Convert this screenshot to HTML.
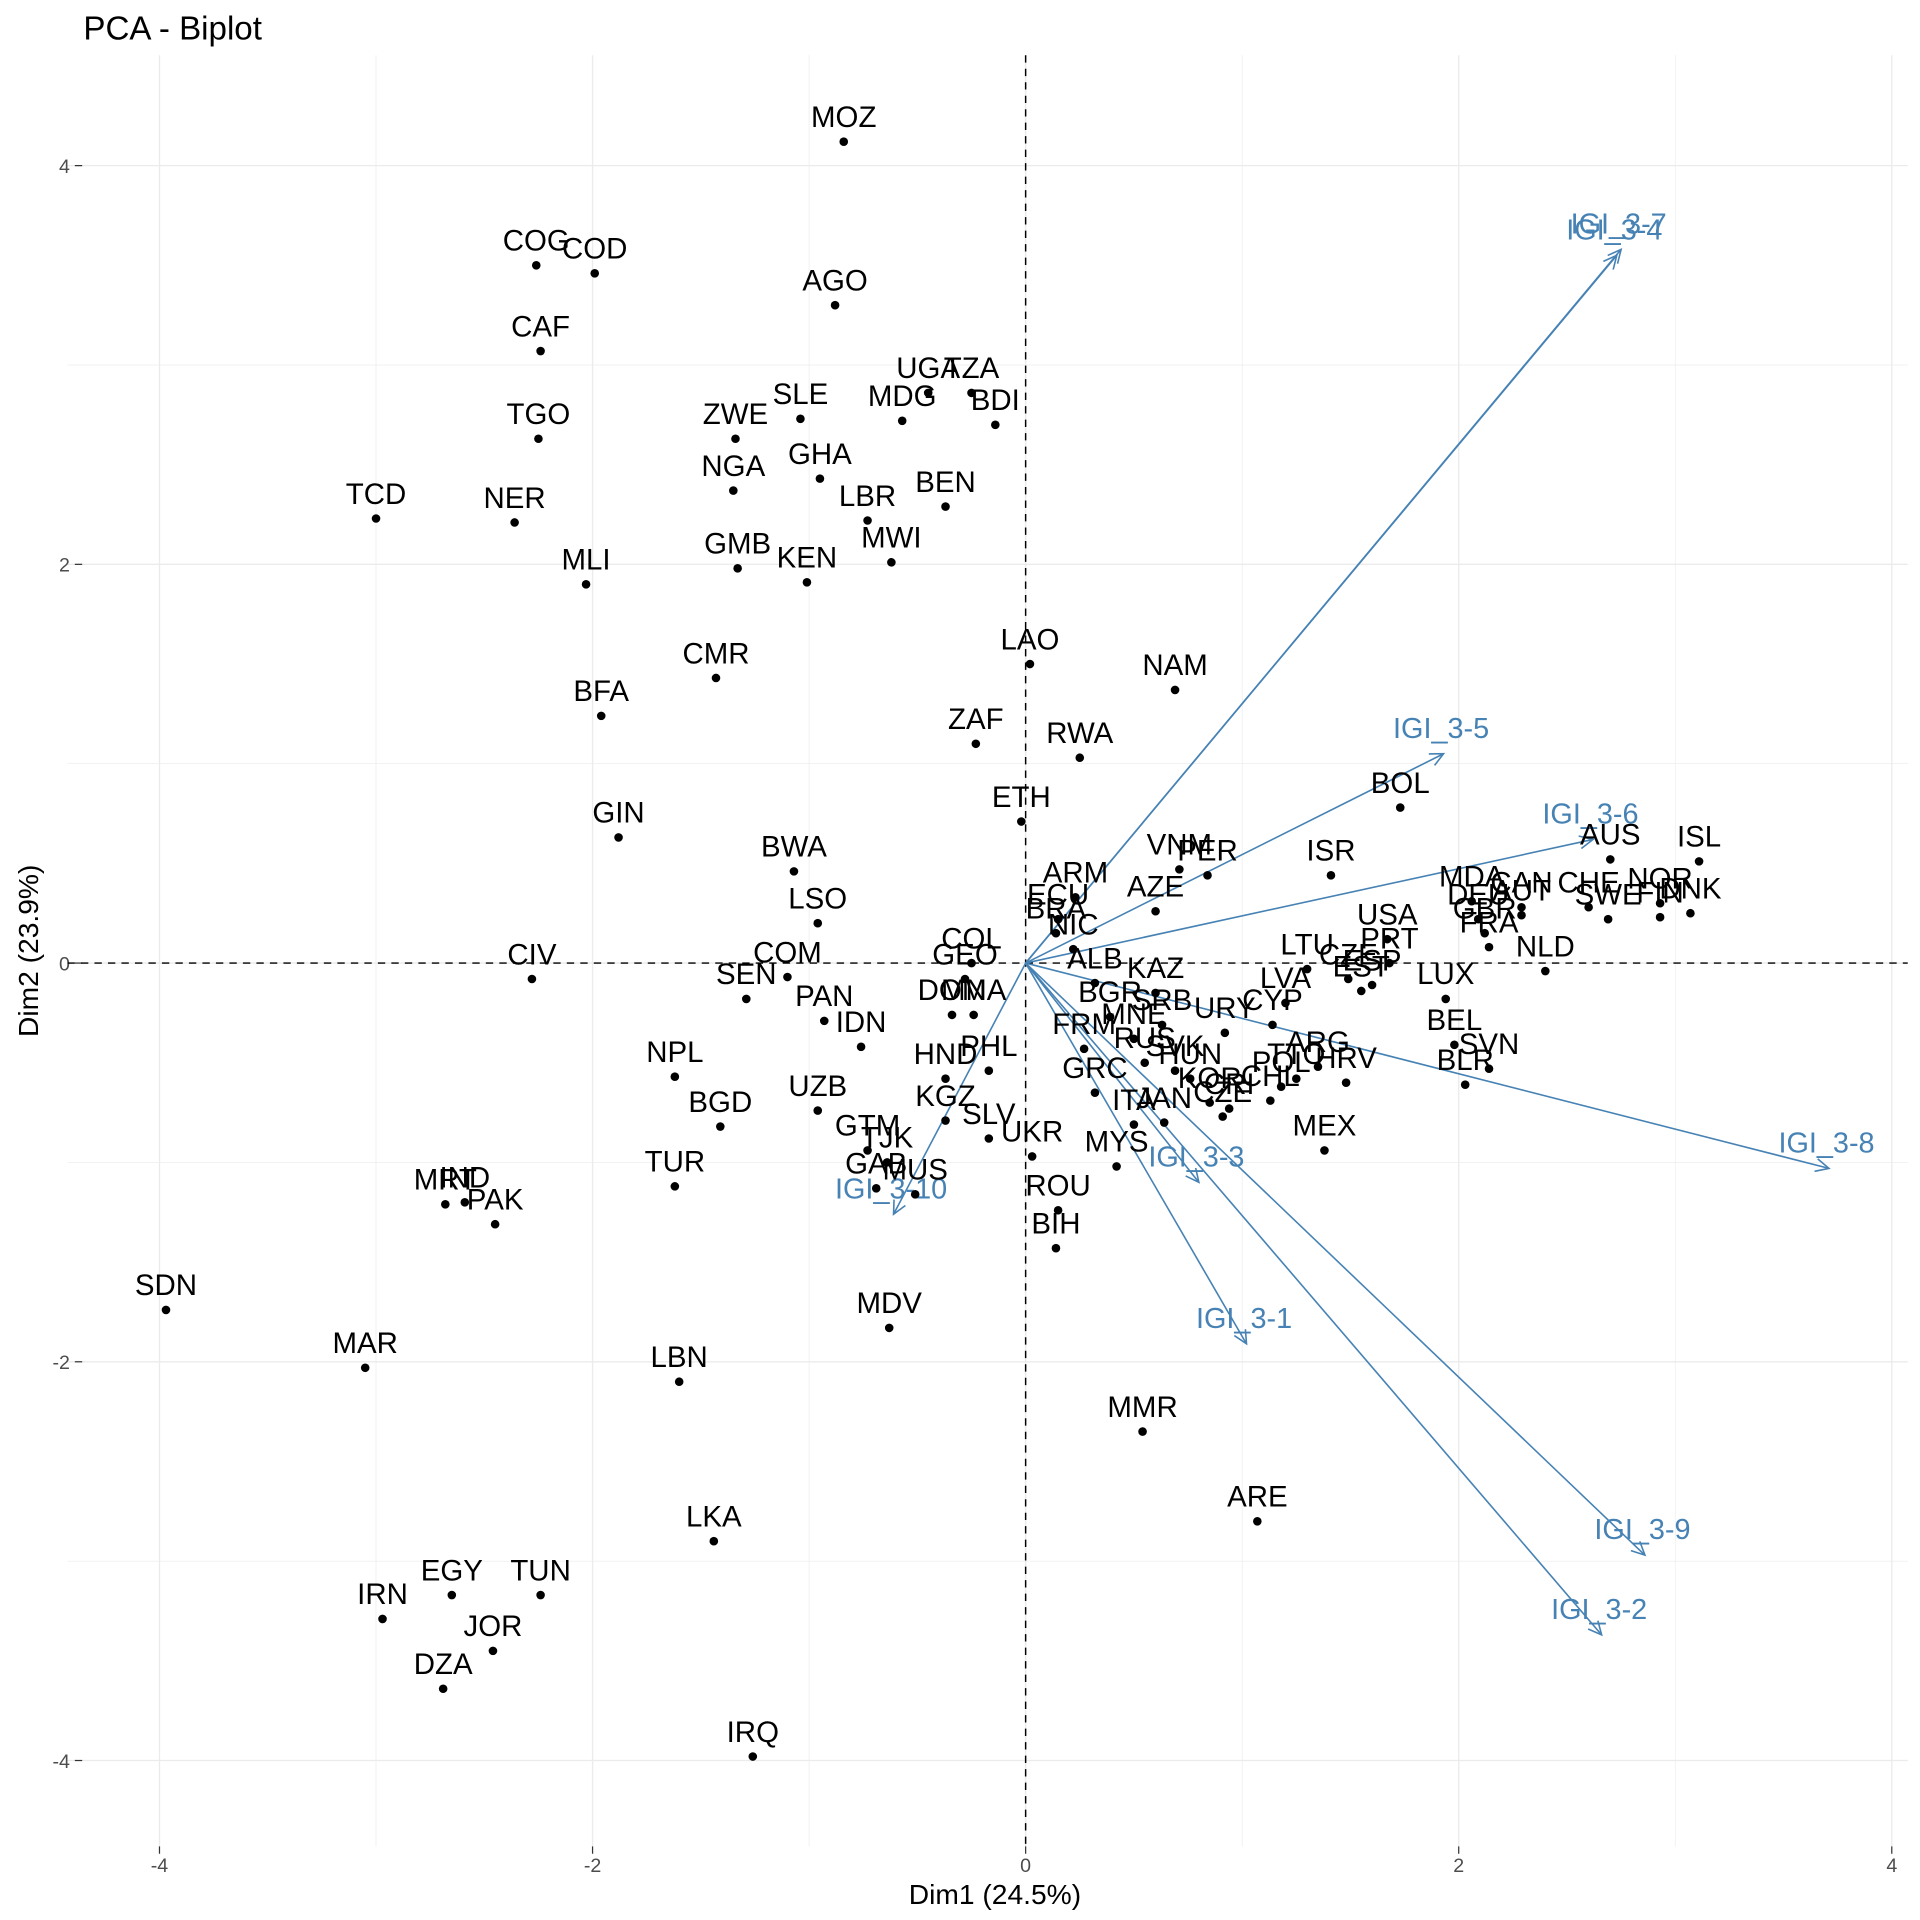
<!DOCTYPE html>
<html><head><meta charset="utf-8"><style>html,body{margin:0;padding:0;background:#fff}svg{display:block}</style></head>
<body>
<svg id="chart" width="1920" height="1920" viewBox="0 0 1565 1565" xmlns="http://www.w3.org/2000/svg" font-family="Liberation Sans, sans-serif">
<rect width="1565" height="1565" fill="#fff"/>
<g id="grid"></g><g id="axes"></g><g id="arrows"></g><g id="points"></g>
<text x="68" y="32" font-size="27" fill="#000">PCA - Biplot</text>
<text x="811" y="1552" font-size="23" text-anchor="middle">Dim1 (24.5%)</text>
<text transform="translate(31,775) rotate(-90)" font-size="23" text-anchor="middle">Dim2 (23.9%)</text>
</svg>
<script>
const names=["MOZ","COG","COD","AGO","CAF","UGA","TZA","MDG","BDI","SLE","ZWE","TGO","GHA","NGA","BEN","LBR","TCD","NER","MWI","GMB","KEN","MLI","CMR","LAO","NAM","BFA","ZAF","RWA","ETH","BOL","GIN","BWA","AUS","ISL","VNM","PER","ISR","ARM","AZE","MDA","CAN","CHE","NOR","FIN","DNK","SWE","DEU","AUT","GBR","FRA","NLD","ECU","BRA","LSO","USA","COL","GEO","COM","CIV","NIC","KAZ","LTU","PRT","LVA","CZE","EST","ESP","LUX","SEN","DOM","MNA","ALB","PAN","IDN","CYP","URY","BGR","SRB","MNE","FRM","BEL","SVN","BLR","ARG","HRV","TTO","NPL","HND","PHL","POL","CHL","SVK","RUS","HUN","GRC","UZB","KOR","CRI","CZE2","ITA","JAN","BGD","MEX","GTM","TJK","KGZ","SLV","UKR","MYS","GAB","MUS","TUR","MRT","IND","PAK","ROU","BIH","SDN","MDV","MAR","LBN","MMR","ARE","LKA","EGY","TUN","IRN","JOR","DZA","IRQ"];
const dim1=[-0.84,-2.26,-1.99,-0.88,-2.24,-0.45,-0.25,-0.57,-0.14,-1.04,-1.34,-2.25,-0.95,-1.35,-0.37,-0.73,-3.00,-2.36,-0.62,-1.33,-1.01,-2.03,-1.43,0.02,0.69,-1.96,-0.23,0.25,-0.02,1.73,-1.88,-1.07,2.70,3.11,0.71,0.84,1.41,0.23,0.60,2.06,2.29,2.60,2.93,2.93,3.07,2.69,2.09,2.29,2.12,2.14,2.40,0.15,0.14,-0.96,1.67,-0.25,-0.28,-1.10,-2.28,0.22,0.60,1.30,1.68,1.20,1.49,1.55,1.60,1.94,-1.29,-0.34,-0.24,0.32,-0.93,-0.76,1.14,0.92,0.39,0.63,0.50,0.27,1.98,2.14,2.03,1.35,1.48,1.25,-1.62,-0.37,-0.17,1.18,1.13,0.69,0.55,0.76,0.32,-0.96,0.85,0.94,0.91,0.50,0.64,-1.41,1.38,-0.73,-0.64,-0.37,-0.17,0.03,0.42,-0.69,-0.51,-1.62,-2.68,-2.59,-2.45,0.15,0.14,-3.97,-0.63,-3.05,-1.60,0.54,1.07,-1.44,-2.65,-2.24,-2.97,-2.46,-2.69,-1.26];
const dim2=[4.12,3.50,3.46,3.30,3.07,2.86,2.86,2.72,2.70,2.73,2.63,2.63,2.43,2.37,2.29,2.22,2.23,2.21,2.01,1.98,1.91,1.90,1.43,1.50,1.37,1.24,1.10,1.03,0.71,0.78,0.63,0.46,0.52,0.51,0.47,0.44,0.44,0.33,0.26,0.31,0.28,0.28,0.30,0.23,0.25,0.22,0.22,0.24,0.15,0.08,-0.04,0.22,0.15,0.20,0.12,0.00,-0.08,-0.07,-0.08,0.07,-0.15,-0.03,0.00,-0.20,-0.08,-0.14,-0.11,-0.18,-0.18,-0.26,-0.26,-0.10,-0.29,-0.42,-0.31,-0.35,-0.27,-0.31,-0.38,-0.43,-0.41,-0.53,-0.61,-0.52,-0.60,-0.58,-0.57,-0.58,-0.54,-0.62,-0.69,-0.54,-0.50,-0.58,-0.65,-0.74,-0.70,-0.73,-0.77,-0.81,-0.80,-0.82,-0.94,-0.94,-1.00,-0.79,-0.88,-0.97,-1.02,-1.13,-1.16,-1.12,-1.21,-1.20,-1.31,-1.24,-1.43,-1.74,-1.83,-2.03,-2.10,-2.35,-2.80,-2.90,-3.17,-3.17,-3.29,-3.45,-3.64,-3.98];
const varNames=["IGI_3-7","IGI_3-4","IGI_3-5","IGI_3-6","IGI_3-8","IGI_3-3","IGI_3-10","IGI_3-1","IGI_3-9","IGI_3-2"];
const varDim1=[2.75,2.73,1.93,2.62,3.71,0.80,-0.61,1.02,2.86,2.66];
const varDim2=[3.58,3.55,1.05,0.62,-1.03,-1.10,-1.26,-1.91,-2.97,-3.37];
const xTicks=[-4,-2,0,2,4];
const yTicks=[4,2,0,-2,-4];

const NS="http://www.w3.org/2000/svg";
const X=v=>836+v*176.5, Y=v=>785-v*162.5;
function mk(tag,attrs,parent,txt){const e=document.createElementNS(NS,tag);for(const k in attrs)e.setAttribute(k,attrs[k]);if(txt!==undefined)e.textContent=txt;parent.appendChild(e);return e;}
const grid=document.getElementById('grid'),axes=document.getElementById('axes'),arr=document.getElementById('arrows'),pts=document.getElementById('points');
for(let v=-5;v<=4;v++){
  const major=v%2===0;
  if(v>=-4){const l=mk('line',{x1:X(v),x2:X(v),y1:45,y2:1505,stroke:'#ebebeb','stroke-width':major?1.1:0.55},grid);
  
  }
  const hl=mk('line',{x1:55,x2:1555,y1:Y(v),y2:Y(v),stroke:'#ebebeb','stroke-width':major?1.1:0.55},grid);
  
  
}
xTicks.forEach(t=>{
  mk('line',{x1:X(t),x2:X(t),y1:1505,y2:1511,stroke:'#333','stroke-width':1},axes);
  const tx=mk('text',{x:X(t),y:1526,'font-size':16,fill:'#4d4d4d','text-anchor':'middle'},axes,String(t));
  
  
});
yTicks.forEach(t=>{
  mk('line',{x1:61,x2:67,y1:Y(t),y2:Y(t),stroke:'#333','stroke-width':1},axes);
  const tx=mk('text',{x:57,y:Y(t)+6,'font-size':16,fill:'#4d4d4d','text-anchor':'end'},axes,String(t));
  
  
});
const vz=mk('line',{x1:X(0),x2:X(0),y1:45,y2:1505,stroke:'#000','stroke-width':1.2,'stroke-dasharray':'6,5'},axes);


const hz=mk('line',{x1:55,x2:1555,y1:Y(0),y2:Y(0),stroke:'#000','stroke-width':1.2,'stroke-dasharray':'6,5'},axes);



varNames.forEach((n,i)=>{
  const x2=X(varDim1[i]),y2=Y(varDim2[i]),x1=X(0),y1=Y(0);
  const g=mk('g',{},arr);
  
  
  mk('line',{x1,y1,x2,y2,stroke:'#4682B4','stroke-width':1.3},g);
  const a=Math.atan2(y2-y1,x2-x1),L=12,s=0.45;
  const p=`M${x2-L*Math.cos(a-s)},${y2-L*Math.sin(a-s)} L${x2},${y2} L${x2-L*Math.cos(a+s)},${y2-L*Math.sin(a+s)}`;
  mk('path',{d:p,fill:'none',stroke:'#4682B4','stroke-width':1.3},g);
  const t=mk('text',{x:x2-2,y:y2-13,'font-size':23.5,fill:'#4682B4','text-anchor':'middle'},g,n);
  
  
});
names.forEach((n,i)=>{
  const cx=X(dim1[i]),cy=Y(dim2[i]);
  const c=mk('circle',{cx,cy,r:3.5,fill:'#000'},pts);
  
  
  const lab=n.replace(/\d$/,'');
  const t=mk('text',{x:cx,y:cy-12,'font-size':24,fill:'#000','text-anchor':'middle'},pts,lab);
  
  
});
</script>
</body></html>
